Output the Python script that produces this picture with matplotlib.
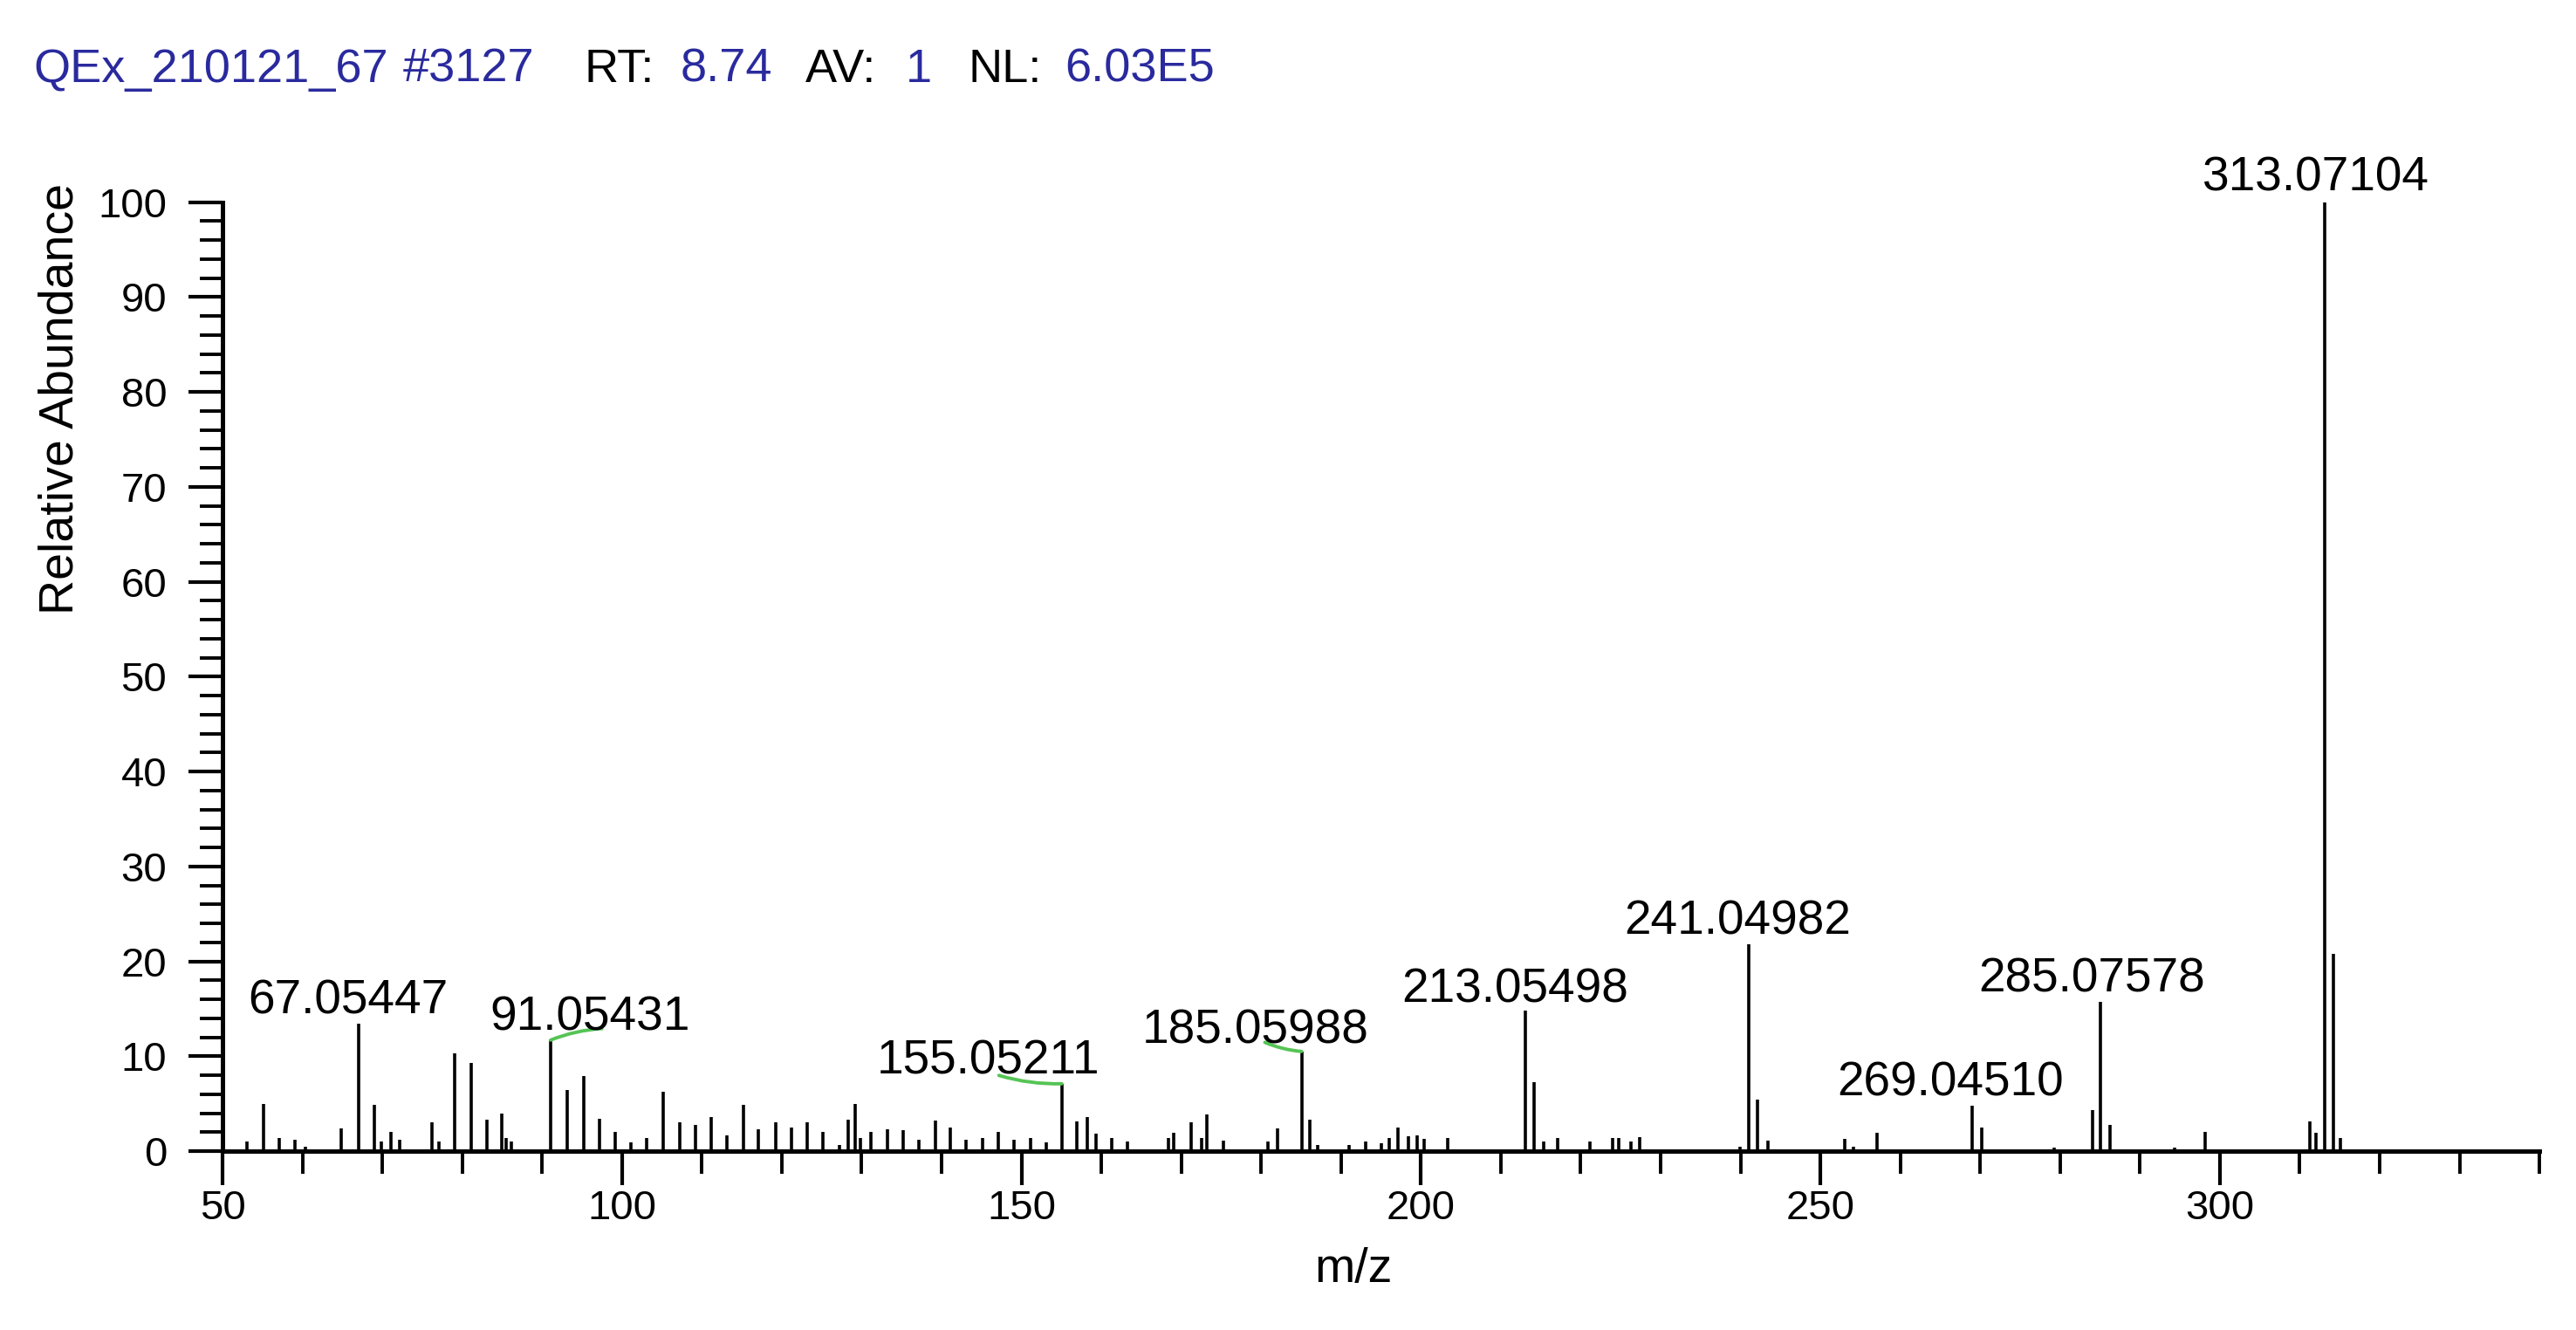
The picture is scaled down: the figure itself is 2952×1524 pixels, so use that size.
import matplotlib
matplotlib.use("Agg")
import matplotlib.pyplot as plt
from matplotlib.ticker import MultipleLocator

plt.rcParams['font.family'] = ['Liberation Sans', 'DejaVu Sans']

# centroid peaks (m/z, relative abundance %)
mz = [53.1, 55.1, 57.1, 59.1, 60.4, 64.9, 67.05447, 69.05, 69.85, 71.1,
      72.2, 76.2, 77.1, 79.1, 81.1, 83.1, 85.0, 85.5, 86.2, 91.05431,
      93.1, 95.2, 97.2, 99.2, 101.1, 103.1, 105.2, 107.2, 109.2, 111.2,
      113.1, 115.2, 117.1, 119.2, 121.2, 123.2, 125.1, 127.2, 128.3, 129.2,
      129.8, 131.2, 133.2, 135.2, 137.2, 139.2, 141.05, 143.1, 145.1, 147.1,
      149.1, 151.1, 153.1, 155.05211, 156.9, 158.2, 159.3, 161.3, 163.3, 168.4,
      169.1, 171.2, 172.6, 173.2, 175.3, 180.9, 182.1, 185.05988, 186.1, 187.1,
      191.0, 193.1, 195.1, 196.05, 197.1, 198.4, 199.5, 200.4, 203.3, 213.05498,
      214.15, 215.4, 217.1, 221.1, 224.0, 224.8, 226.3, 227.4, 239.9, 241.04982,
      242.1, 243.4, 253.05, 254.1, 257.1, 269.0451, 270.2, 279.3, 284.1, 285.07578,
      286.3, 294.3, 298.2, 311.3, 312.05, 313.07104, 314.2, 315.05]
abundance = [1.0, 5.0, 1.4, 1.2, 0.5, 2.4, 13.4, 4.9, 1.0, 2.0,
             1.2, 3.0, 1.0, 10.3, 9.3, 3.35, 4.0, 1.4, 1.0, 11.7,
             6.4, 7.9, 3.4, 2.0, 0.9, 1.4, 6.3, 3.0, 2.8, 3.6,
             1.7, 4.9, 2.3, 3.0, 2.5, 3.0, 2.0, 0.6, 3.3, 5.0,
             1.4, 2.0, 2.3, 2.2, 1.2, 3.2, 2.5, 1.2, 1.4, 2.0,
             1.2, 1.4, 0.9, 7.1, 3.1, 3.6, 1.8, 1.4, 1.0, 1.4,
             1.9, 3.0, 1.4, 3.9, 1.1, 1.0, 2.4, 10.5, 3.35, 0.6,
             0.6, 1.0, 0.8, 1.4, 2.5, 1.6, 1.7, 1.3, 1.4, 14.8,
             7.3, 1.0, 1.4, 1.0, 1.4, 1.4, 1.0, 1.5, 0.5, 21.8,
             5.4, 1.1, 1.3, 0.5, 1.9, 4.8, 2.5, 0.4, 4.3, 15.7,
             2.8, 0.4, 2.0, 3.1, 1.9, 100.0, 20.8, 1.4]

# labelled peaks
label_mz = [67.05447, 91.05431, 155.05211, 185.05988, 213.05498,
            241.04982, 269.0451, 285.07578, 313.07104]
label_text = ['67.05447', '91.05431', '155.05211', '185.05988', '213.05498',
              '241.04982', '269.04510', '285.07578', '313.07104']

# label offsets (points) and green leader anchor (None = no leader)
label_offset = [(-4.6, 4.2), (16.2, 4.2), (-30.2, 4.2), (-18.9, 3.2), (-4.2, 3.6),
                (-4.6, 4.0), (-9.0, 4.2), (-3.8, 4.2), (-3.5, 4.6)]
leader_rel = [None, (0.56, 0.26), (0.546, 0.19), (0.54, 0.26), None,
              None, None, None, None]

blue = '#2a2a9e'
green = '#55c455'

fig = plt.figure(figsize=(14.76, 7.62), dpi=200)
ax = fig.add_axes([0.0864, 0.1345, 0.8994, 0.7135])

ax.vlines(mz, 0, abundance, colors='black', linewidth=1.3)

peak_h = dict(zip(mz, abundance))
for m, txt, off, rel in zip(label_mz, label_text, label_offset, leader_rel):
    h = peak_h[m]
    if rel is None:
        ax.annotate(txt, xy=(m, h), xytext=off, textcoords='offset points',
                    ha='center', va='baseline', fontsize=19.8,
                    annotation_clip=False)
    else:
        ax.annotate(txt, xy=(m, h), xytext=off, textcoords='offset points',
                    ha='center', va='baseline', fontsize=19.8,
                    annotation_clip=False,
                    arrowprops=dict(arrowstyle='-', color=green, lw=1.4,
                                    shrinkA=0, shrinkB=0, relpos=rel,
                                    connectionstyle='arc3,rad=0.08'))

ax.set_xlim(50, 340)
ax.set_ylim(0, 100)
ax.xaxis.set_major_locator(MultipleLocator(50))
ax.xaxis.set_minor_locator(MultipleLocator(10))
ax.yaxis.set_major_locator(MultipleLocator(10))
ax.yaxis.set_minor_locator(MultipleLocator(2))

for side in ['top', 'right']:
    ax.spines[side].set_visible(False)
for side in ['left', 'bottom']:
    ax.spines[side].set_linewidth(1.8)

ax.tick_params(axis='both', which='major', length=14, width=1.5, labelsize=17)
ax.tick_params(axis='both', which='minor', length=9.5, width=1.4)
ax.tick_params(axis='x', which='major', pad=2)
ax.tick_params(axis='y', which='major', pad=9)

fig.text(70 / 2952, 1 - 457 / 1524, 'Relative Abundance', rotation=90,
         ha='center', va='center', fontsize=20)
fig.text(1551 / 2952, 1 - 1455 / 1524, 'm/z', ha='center', va='center', fontsize=20)

# header line
header = [('QEx_210121_67', 38, blue), ('#3127', 462, blue), ('RT:', 670, 'black'),
          ('8.74', 780, blue), ('AV:', 923, 'black'), ('1', 1038, blue),
          ('NL:', 1110, 'black'), ('6.03E5', 1220, blue)]
for txt, xp, col in header:
    fig.text(xp / 2952, 1 - 94 / 1524, txt, color=col, fontsize=19.5,
             ha='left', va='baseline')

fig.savefig('out.png', dpi=200, facecolor='white')
